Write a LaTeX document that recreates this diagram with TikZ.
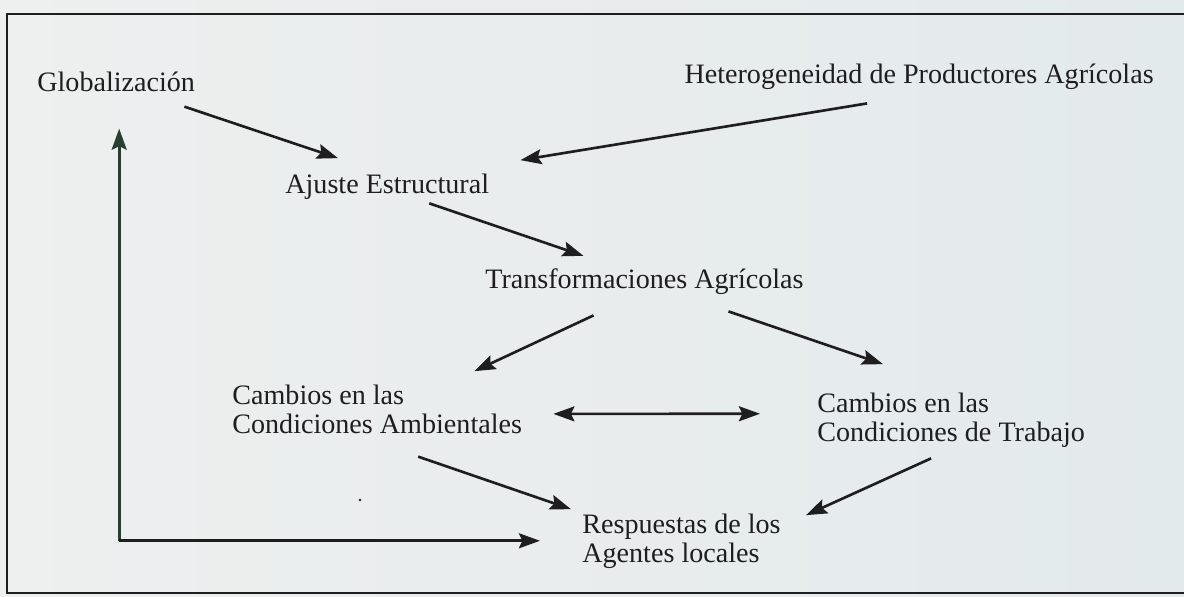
\documentclass[tikz,border=0pt]{standalone}
\usepackage{fontspec}
\setmainfont{Liberation Serif}
\usetikzlibrary{arrows.meta}

\definecolor{paper}{RGB}{238,239,239}
\definecolor{paperblue}{RGB}{227,234,236}
\definecolor{ink}{RGB}{30,30,30}
\definecolor{stem}{RGB}{40,62,48}

\begin{document}
\begin{tikzpicture}[x=0.02cm, y=-0.02cm]
\tikzstyle{every node}=[inner sep=0pt, anchor=base west, align=left, text=ink,
  font=\fontsize{16pt}{16.5pt}\selectfont];
\tikzstyle{arr}=[draw=ink, line width=1.5pt, -{Stealth[length=12pt,width=8.5pt,inset=2pt]}];
\useasboundingbox (0,0) rectangle (1184,596);
\fill[left color=paper, right color=paperblue] (0,0) rectangle (1184,596);
\draw[ink, line width=1.1pt] (1184,14) -- (7,14) -- (7,593) -- (1184,593);
\node (glob) at (37, 91) {Globalización};
\node[anchor=base east] (het) at (1154, 83) {Heterogeneidad de Productores Agrícolas};
\node (ajuste) at (285, 193) {Ajuste Estructural};
\node (transf) at (485, 288) {Transformaciones Agrícolas};
\node (amb) at (232, 433) {Cambios en las\\Condiciones Ambientales};
\node (trab) at (817, 441) {Cambios en las\\Condiciones de Trabajo};
\node (resp) at (582, 562) {Respuestas de los\\Agentes locales};
\fill[ink] (360, 500) circle (1.3);
\draw[arr] ([shift={(-11,15)}]glob.south east) -- ([shift={(53,-15)}]ajuste.north west);
\draw[arr] ([shift={(-52,14)}]het.south) -- ([shift={(31,-13)}]ajuste.north east);
\draw[arr] ([shift={(42,4)}]ajuste.south) -- ([shift={(-61,-12)}]transf.north);
\draw[arr] ([shift={(-51,21)}]transf.south) -- ([shift={(-48,-13)}]amb.north east);
\draw[arr] ([shift={(84,17)}]transf.south) -- ([shift={(66,-28)}]trab.north west);
\draw[arr, {Stealth[length=12pt,width=8.5pt,inset=2pt]}-{Stealth[length=12pt,width=8.5pt,inset=2pt]}]
  ([shift={(31,5)}]amb.east) -- ([shift={(-57,-6)}]trab.west);
\draw[arr] ([shift={(41,23)}]amb.south) -- ([shift={(-11,-4)}]resp.north west);
\draw[arr] ([shift={(-20,11)}]trab.south) -- ([shift={(25,2)}]resp.north east);
\coordinate (corner) at ([shift={(3,0)}]glob.south |- resp.west);
\draw[arr, draw=stem] (corner) -- ([shift={(0,37)}]corner |- glob.south);
\draw[arr] (corner) -- ([shift={(-42,0)}]resp.west);
\end{tikzpicture}
\end{document}
